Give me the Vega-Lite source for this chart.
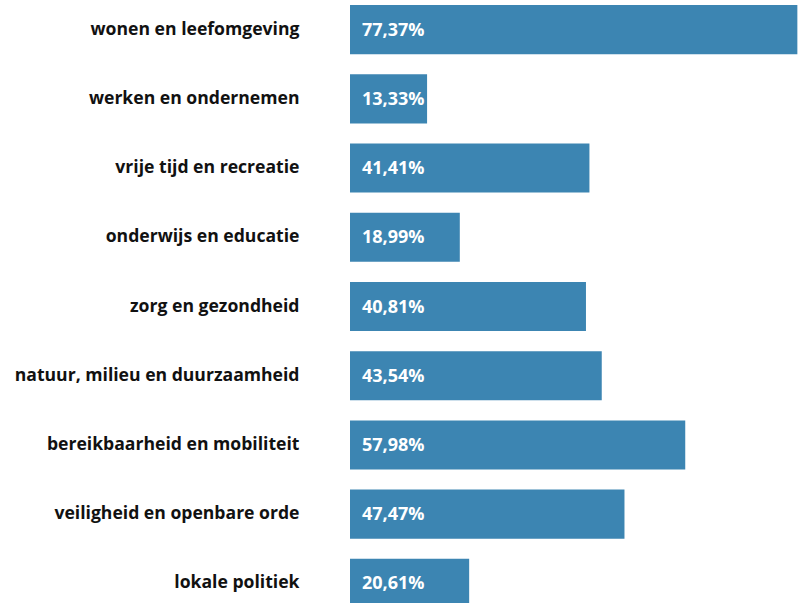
{
  "$schema": "https://vega.github.io/schema/vega-lite/v6.json",
  "autosize": {"type": "none"},
  "padding": {"left": 350, "top": 5, "right": 0, "bottom": 0},
  "width": 451,
  "height": 603,
  "background": "white",
  "config": {
    "view": {"stroke": null},
    "locale": {"number": {"decimal": ",", "thousands": ".", "grouping": [3], "currency": ["€", ""]}},
    "font": "Open Sans"
  },
  "data": {
    "values": [
      {"categorie": "wonen en leefomgeving", "aandeel": 0.7737},
      {"categorie": "werken en ondernemen", "aandeel": 0.1333},
      {"categorie": "vrije tijd en recreatie", "aandeel": 0.4141},
      {"categorie": "onderwijs en educatie", "aandeel": 0.1899},
      {"categorie": "zorg en gezondheid", "aandeel": 0.4081},
      {"categorie": "natuur, milieu en duurzaamheid", "aandeel": 0.4354},
      {"categorie": "bereikbaarheid en mobiliteit", "aandeel": 0.5798},
      {"categorie": "veiligheid en openbare orde", "aandeel": 0.4747},
      {"categorie": "lokale politiek", "aandeel": 0.2061}
    ]
  },
  "encoding": {
    "y": {
      "field": "categorie",
      "type": "nominal",
      "sort": null,
      "scale": {"paddingInner": 0.29, "paddingOuter": 0},
      "axis": {
        "title": null,
        "domain": false,
        "ticks": false,
        "labelPadding": 51,
        "labelFontSize": 17.6,
        "labelFontWeight": "bold",
        "labelColor": "#111111",
        "labelLimit": 400
      }
    }
  },
  "layer": [
    {
      "mark": {"type": "bar", "color": "#3c85b2"},
      "encoding": {
        "x": {
          "field": "aandeel",
          "type": "quantitative",
          "scale": {"domain": [0, 0.78], "nice": false},
          "axis": null
        }
      }
    },
    {
      "mark": {"type": "text", "align": "left", "dx": 12, "color": "white", "fontSize": 18, "fontWeight": "bold", "baseline": "middle", "dy": 1},
      "encoding": {
        "x": {"datum": 0, "type": "quantitative"},
        "text": {"field": "aandeel", "type": "quantitative", "format": ".2%"}
      }
    }
  ]
}
